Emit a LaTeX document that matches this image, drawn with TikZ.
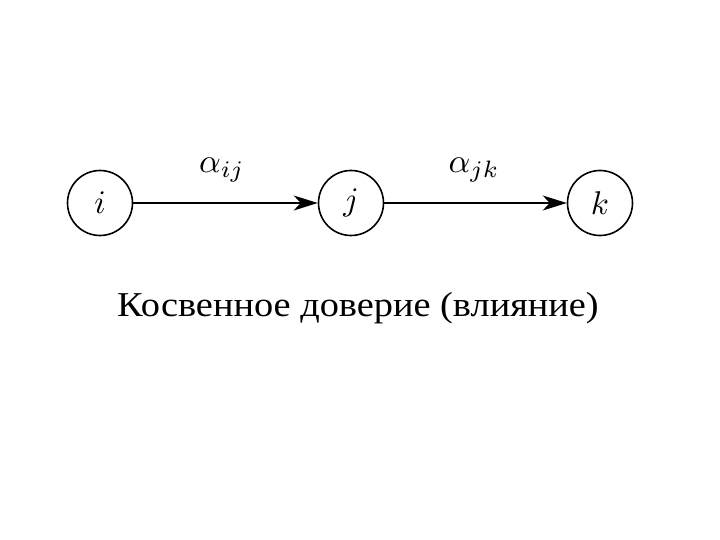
\documentclass[tikz,border=0pt]{standalone}
\usepackage{fontspec}
\newfontfamily\cyrfont{Liberation Serif}
\usetikzlibrary{arrows.meta}
\tikzset{
  vertex/.style={circle,draw,line width=1.6bp,minimum size=65bp,inner sep=0pt},
  edge/.style={line width=1.6bp,-{Stealth[length=24bp,width=15bp,inset=7bp]}},
  elabel/.style={inner sep=0pt}
}
\newcommand{\vtxlabel}[1]{\scalebox{3.3}{$#1$}}
\begin{document}
\begin{tikzpicture}[x=1bp,y=-1bp]
\useasboundingbox (0,0) rectangle (720,540);
\node[vertex] (i) at (100,203) {\vtxlabel{i}};
\node[vertex] (j) at (351,203) {\vtxlabel{j}};
\node[vertex] (k) at (600,203) {\vtxlabel{k}};
\draw[edge] (i) -- (j);
\draw[edge] (j) -- (k);
\node[elabel] (aij) at (222,170) {\scalebox{3.4}{$\alpha_{ij}$}};
\node[elabel] (ajk) at (474,170) {\scalebox{3.4}{$\alpha_{jk}$}};
\node[inner sep=0pt,anchor=base] (cap) at (358,316) {\scalebox{1.1}[1]{\cyrfont\fontsize{35}{42}\selectfont Косвенное доверие (влияние)}};
\end{tikzpicture}
\end{document}
